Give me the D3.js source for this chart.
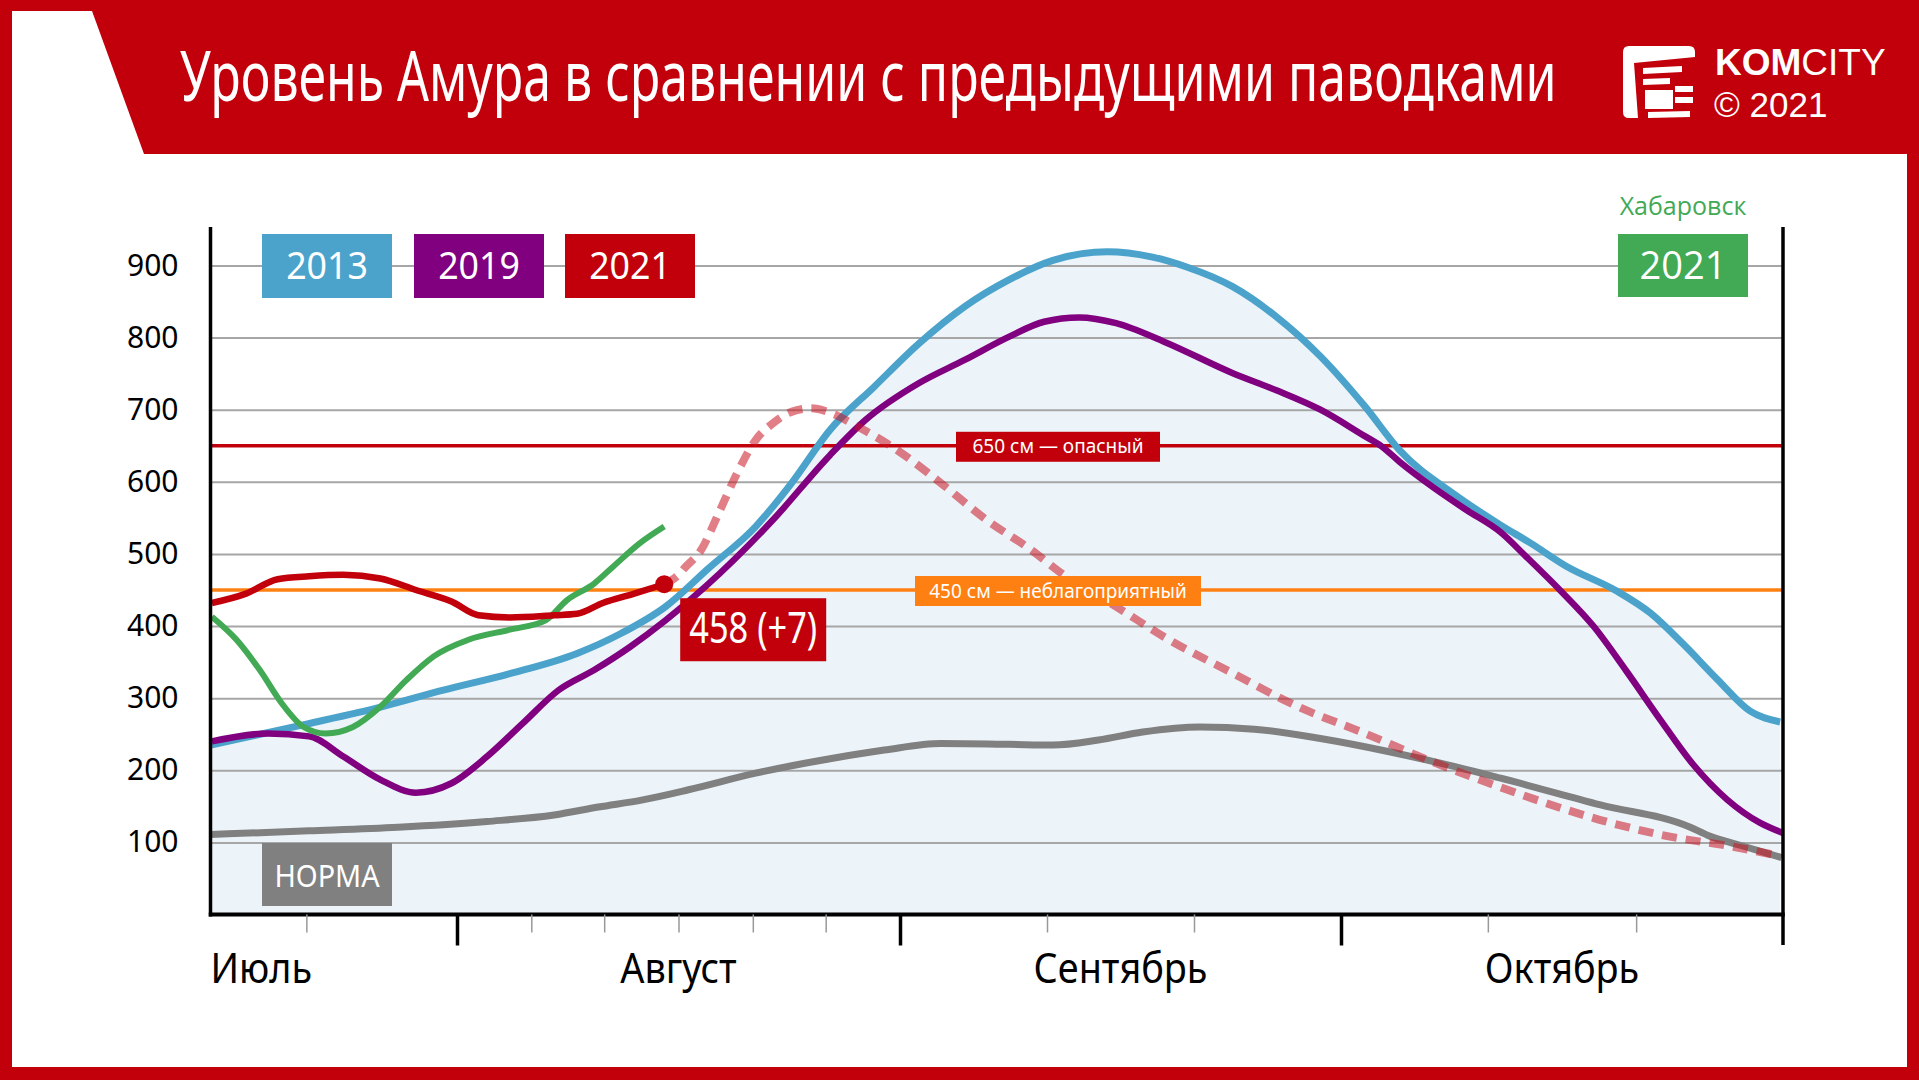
<!DOCTYPE html>
<html>
<head>
<meta charset="utf-8">
<script src="https://cdn.jsdelivr.net/npm/d3@7"></script>
<style>
  html, body { margin: 0; padding: 0; background: #fff; }
  svg { display: block; }
  text { font-family: "Noto Sans", "Open Sans", sans-serif; }
</style>
</head>
<body>
<div id="chart"></div>
<script>
// days are counted from 1 July (1 Aug = 31, 1 Sep = 62, 1 Oct = 92, 1 Nov = 123)
const title = "Уровень Амура в сравнении с предыдущими паводками";
const months = ["Июль", "Август", "Сентябрь", "Октябрь"];
const monthBreaks = [13, 31, 62, 92, 123];
const monthMids = [13, 46.5, 77, 107.5];
const minorTicks = [20, 36.2, 41.3, 46.5, 51.7, 56.8, 72, 82, 102.3, 112.7];
const yTicks = [100, 200, 300, 400, 500, 600, 700, 800, 900];

const series2013 = [[13,235],[20,264],[25.5,288],[30,311],[34.7,334],[39.4,362],[42.5,390],[45.6,427],
  [48.6,480],[51.9,538],[54.4,598],[57.1,672],[60.2,732],[63.3,792],[66.4,843],[69.4,880],[72.4,907],
  [76.1,919],[79.1,912],[81.5,898],[84.6,871],[87.6,829],[90.6,774],[93.7,704],[96.1,644],[100,582],
  [103.2,540],[105.3,515],[107.8,483],[111.3,449],[113.7,418],[116,375],[118.4,326],[120.7,282],[122.8,267]];

const series2019 = [[13.1,240],[17.2,251],[20.2,247],[22.7,219],[25.4,187],[28,169],[30.6,182],[33.1,219],
  [35.6,265],[38.1,311],[40.6,339],[43.1,371],[45.6,408],[48.4,455],[53.1,547],[57.1,637],[59.6,686],
  [63.3,737],[66.4,769],[69.4,801],[71.8,822],[74.2,828],[76.7,820],[80,794],[84.6,751],[87.6,727],
  [90.6,700],[93.7,663],[94.8,650],[96.1,628],[98.5,592],[100.8,561],[103.2,530],[105,496],[107.4,449],
  [109.7,400],[112,338],[114.4,270],[116.7,208],[119.1,159],[121.4,127],[123,113]];

const seriesNorm = [[13,111],[20.2,116],[26.7,121],[33.1,129],[37.8,138],[40.9,149],[44,159],[47.2,173],
  [51.9,196],[57.1,216],[60.9,228],[64.8,237],[69.4,236],[72.4,235],[75.5,242],[78.5,253],[82.4,260],
  [86.1,257],[90.6,244],[95.3,226],[100,205],[103.2,189],[110.2,152],[116.5,121],[117.7,110],[120,96],[122.9,79]];

const series2021 = [[13.1,432],[15.6,445],[17.9,465],[20.2,469],[22.7,471],[25.4,466],[28,450],[30.6,434],
  [32.5,415],[34.7,412],[37.8,415],[39.4,417],[41.2,432],[43.4,445],[45.5,458]];
const change2021 = 7;

const seriesKhab = [[13.1,413],[14.9,381],[16.6,339],[18.2,293],[19.8,260],[21.4,251],[23.4,260],[25.4,288],
  [27.3,325],[29.3,358],[31.8,381],[34.7,395],[37.2,408],[38.7,436],[40.6,459],[41.9,482],[43.8,515],[45.5,538]];

const forecast = [[45.5,458],[46.6,473],[46.9,480],[48.1,506],[49.3,556],[50.6,612],[51.9,658],[53.1,681],
  [54.4,697],[55.8,702],[57.1,696],[59,677],[61.8,644],[64.8,598],[67.9,547],[70.9,506],[73,473],
  [76.7,427],[80.3,381],[84.6,335],[89.1,288],[93.7,251],[98.4,212],[103.1,177],[105.4,161],[110.2,131],
  [114.8,109],[119.5,94],[122.8,81]];

const thresholds = [
  { value: 650, label: "650 см — опасный", color: "#c2000b", w: 204 },
  { value: 450, label: "450 см — неблагоприятный", color: "#ff8012", w: 286 }
];

const RED = "#c2000b", BLUE = "#4ba3cb", PURPLE = "#800080", GREEN = "#42a955",
      GRAY = "#808080", FILL = "#ecf4fa", GRID = "#a6a6a6";

const W = 1919, H = 1080;

const svg = d3.select("#chart")
    .append("svg")
        .attr("width", W)
        .attr("height", H);

// frame and banner
svg.append("rect").attr("width", W).attr("height", H).attr("fill", RED);
svg.append("rect").attr("x", 12).attr("y", 154).attr("width", 1895).attr("height", 913).attr("fill", "#fff");
svg.append("path").attr("d", "M12,11H92L144,154H12Z").attr("fill", "#fff");

// title: pick a font size whose width fits, then stretch it up to the tall condensed look
const titleText = svg.append("text")
    .attr("x", 0)
    .attr("y", 0)
    .style("font-size", "70px")
    .style("fill", "#fff")
    .text(title);
const titleSize = 70 * 1377 / titleText.node().getComputedTextLength();
titleText
    .style("font-size", `${titleSize}px`)
    .attr("transform", `translate(180,101) scale(1,${70 / titleSize})`);

// logo
const logo = svg.append("g").attr("fill", "#fff");
logo.append("path").attr("d", "M1623,52Q1623,46 1629,46L1689,46Q1695,46 1695,52L1695,57L1634,63L1638,118L1629,118Q1623,118 1623,112Z");
logo.append("path").attr("d", "M1643,68L1682,66L1682,72L1643,74Z");
logo.append("path").attr("d", "M1643,79L1670,78L1670,84L1643,85Z");
logo.append("rect").attr("x", 1645).attr("y", 90).attr("width", 28).attr("height", 19);
logo.append("rect").attr("x", 1675).attr("y", 86).attr("width", 18).attr("height", 6);
logo.append("rect").attr("x", 1675).attr("y", 97).attr("width", 18).attr("height", 6);
logo.append("path").attr("d", "M1648,112L1690,111L1690,117L1648,118Z");

const brand = svg.append("text")
    .attr("x", 1715)
    .attr("y", 75)
    .style("font-family", "'Liberation Sans', Arial, sans-serif")
    .style("font-size", "37px")
    .style("fill", "#fff");
brand.append("tspan").style("font-weight", "bold").text("KOM");
brand.append("tspan").text("CITY");

svg.append("text")
    .attr("x", 1714)
    .attr("y", 117)
    .style("font-family", "'Liberation Sans', Arial, sans-serif")
    .style("font-size", "35px")
    .style("fill", "#fff")
    .text("© 2021");

// scales
const x = d3.scaleLinear()
    .domain(monthBreaks)
    .range([210.5, 457, 900, 1341, 1783]);

const y = d3.scaleLinear()
    .domain([0, 900])
    .range([914.5, 265.5]);

const x0 = x(monthBreaks[0]), x1 = x(monthBreaks[4]);

const squeeze = (sel, k) => sel.each(function () {
    const w = this.getComputedTextLength();
    d3.select(this).attr("textLength", w * k).attr("lengthAdjust", "spacingAndGlyphs");
});

// area under 2013
svg.append("path")
    .datum(series2013)
    .attr("fill", FILL)
    .attr("d", d3.area()
        .x(d => x(d[0]))
        .y0(y(0))
        .y1(d => y(d[1]))
        .curve(d3.curveMonotoneX));

// grid
const grid = svg.append("g")
    .attr("transform", `translate(${x0},0)`)
    .call(d3.axisLeft(y).tickValues(yTicks).tickSize(-(x1 - x0)).tickFormat(""));
grid.select(".domain").remove();
grid.selectAll("line").attr("stroke", GRID).attr("stroke-width", 2);

// y labels
const yAxisGroup = svg.append("g")
    .attr("transform", `translate(${x0},0)`)
    .call(d3.axisLeft(y).tickValues(yTicks).tickSize(0).tickPadding(32));
yAxisGroup.select(".domain").remove();
yAxisGroup.selectAll("text")
    .attr("font-family", null)
    .attr("font-size", null)
    .style("font-size", "30px")
    .style("fill", "#000");

// threshold lines
thresholds.forEach(t => {
    svg.append("line")
        .attr("x1", x0).attr("x2", x1)
        .attr("y1", y(t.value)).attr("y2", y(t.value))
        .attr("stroke", t.color)
        .attr("stroke-width", 3.5);
});

const line = d3.line()
    .x(d => x(d[0]))
    .y(d => y(d[1]))
    .curve(d3.curveMonotoneX);

const drawLine = (data, colour, width) => svg.append("path")
    .datum(data)
    .attr("fill", "none")
    .attr("stroke", colour)
    .attr("stroke-width", width)
    .attr("d", line);

drawLine(seriesNorm, GRAY, 7);
drawLine(series2013, BLUE, 7);
drawLine(series2019, PURPLE, 6.5);
drawLine(seriesKhab, GREEN, 6);
drawLine(series2021, RED, 6.5);

svg.append("path")
    .datum(forecast)
    .attr("fill", "none")
    .attr("stroke", "rgba(200,20,35,0.55)")
    .attr("stroke-width", 8)
    .attr("stroke-dasharray", "15 9")
    .attr("d", line);

const last = series2021[series2021.length - 1];
svg.append("circle")
    .attr("cx", x(last[0]))
    .attr("cy", y(last[1]))
    .attr("r", 9)
    .attr("fill", RED);

// threshold labels
thresholds.forEach(t => {
    const cx = 1058;
    svg.append("rect")
        .attr("x", cx - t.w / 2).attr("y", y(t.value) - 14)
        .attr("width", t.w).attr("height", 30)
        .attr("fill", t.color);
    svg.append("text")
        .attr("x", cx).attr("y", y(t.value) + 7.5)
        .attr("text-anchor", "middle")
        .style("font-size", "19px")
        .style("fill", "#fff")
        .text(t.label);
});

// axes lines
const ax = svg.append("g").attr("stroke", "#000");
ax.append("line").attr("x1", x0).attr("x2", x0).attr("y1", 227).attr("y2", y(0) + 2).attr("stroke-width", 3.5);
ax.append("line").attr("x1", x1).attr("x2", x1).attr("y1", 227).attr("y2", 945).attr("stroke-width", 3.5);
ax.append("line").attr("x1", x0 - 1.75).attr("x2", x1 + 1.75).attr("y1", y(0)).attr("y2", y(0)).attr("stroke-width", 4);

const minorAxis = svg.append("g")
    .attr("transform", `translate(0,${y(0)})`)
    .call(d3.axisBottom(x).tickValues(minorTicks).tickSize(18).tickFormat(""));
minorAxis.select(".domain").remove();
minorAxis.selectAll("line").attr("stroke", "#999").attr("stroke-width", 1.5);

const majorAxis = svg.append("g")
    .attr("transform", `translate(0,${y(0)})`)
    .call(d3.axisBottom(x).tickValues(monthBreaks.slice(1, 4)).tickSize(31).tickFormat(""));
majorAxis.select(".domain").remove();
majorAxis.selectAll("line").attr("stroke", "#000").attr("stroke-width", 3.5);

svg.selectAll(".month")
    .data(months)
    .join("text")
        .attr("class", "month")
        .attr("x", (d, i) => x(monthMids[i]))
        .attr("y", 983)
        .attr("text-anchor", (d, i) => i === 0 ? "start" : "middle")
        .style("font-size", "42px")
        .style("fill", "#000")
        .text(d => d)
        .call(squeeze, 0.9);

// 458 (+7) label
const lx = x(last[0]) + 16, ly = y(last[1]) + 14;
svg.append("rect").attr("x", lx).attr("y", ly).attr("width", 146).attr("height", 63).attr("fill", RED);
svg.append("text")
    .attr("x", lx + 73).attr("y", ly + 45)
    .attr("text-anchor", "middle")
    .style("font-size", "43px")
    .style("fill", "#fff")
    .text(`${last[1]} (+${change2021})`)
    .call(squeeze, 0.8);

// norma label
svg.append("rect").attr("x", 262).attr("y", 843).attr("width", 130).attr("height", 63).attr("fill", GRAY);
svg.append("text")
    .attr("x", 327).attr("y", 887)
    .attr("text-anchor", "middle")
    .style("font-size", "30px")
    .style("fill", "#fff")
    .text("НОРМА")
    .call(squeeze, 0.96);

// legend
const legend = [
    { label: "2013", color: BLUE, x: 262 },
    { label: "2019", color: PURPLE, x: 414 },
    { label: "2021", color: RED, x: 565 }
];
legend.forEach(l => {
    svg.append("rect").attr("x", l.x).attr("y", 234).attr("width", 130).attr("height", 64).attr("fill", l.color);
    svg.append("text")
        .attr("x", l.x + 65).attr("y", 279)
        .attr("text-anchor", "middle")
        .style("font-size", "38px")
        .style("fill", "#fff")
        .text(l.label)
        .call(squeeze, 0.94);
});

svg.append("text")
    .attr("x", 1683).attr("y", 215)
    .attr("text-anchor", "middle")
    .style("font-family", "'Open Sans', sans-serif")
    .style("font-size", "25px")
    .style("fill", GREEN)
    .text("Хабаровск");
svg.append("rect").attr("x", 1618).attr("y", 234).attr("width", 130).attr("height", 63).attr("fill", GREEN);
svg.append("text")
    .attr("x", 1683).attr("y", 279)
    .attr("text-anchor", "middle")
    .style("font-family", "'Open Sans', sans-serif")
    .style("font-size", "38px")
    .style("fill", "#fff")
    .text("2021");
</script>
</body>
</html>
